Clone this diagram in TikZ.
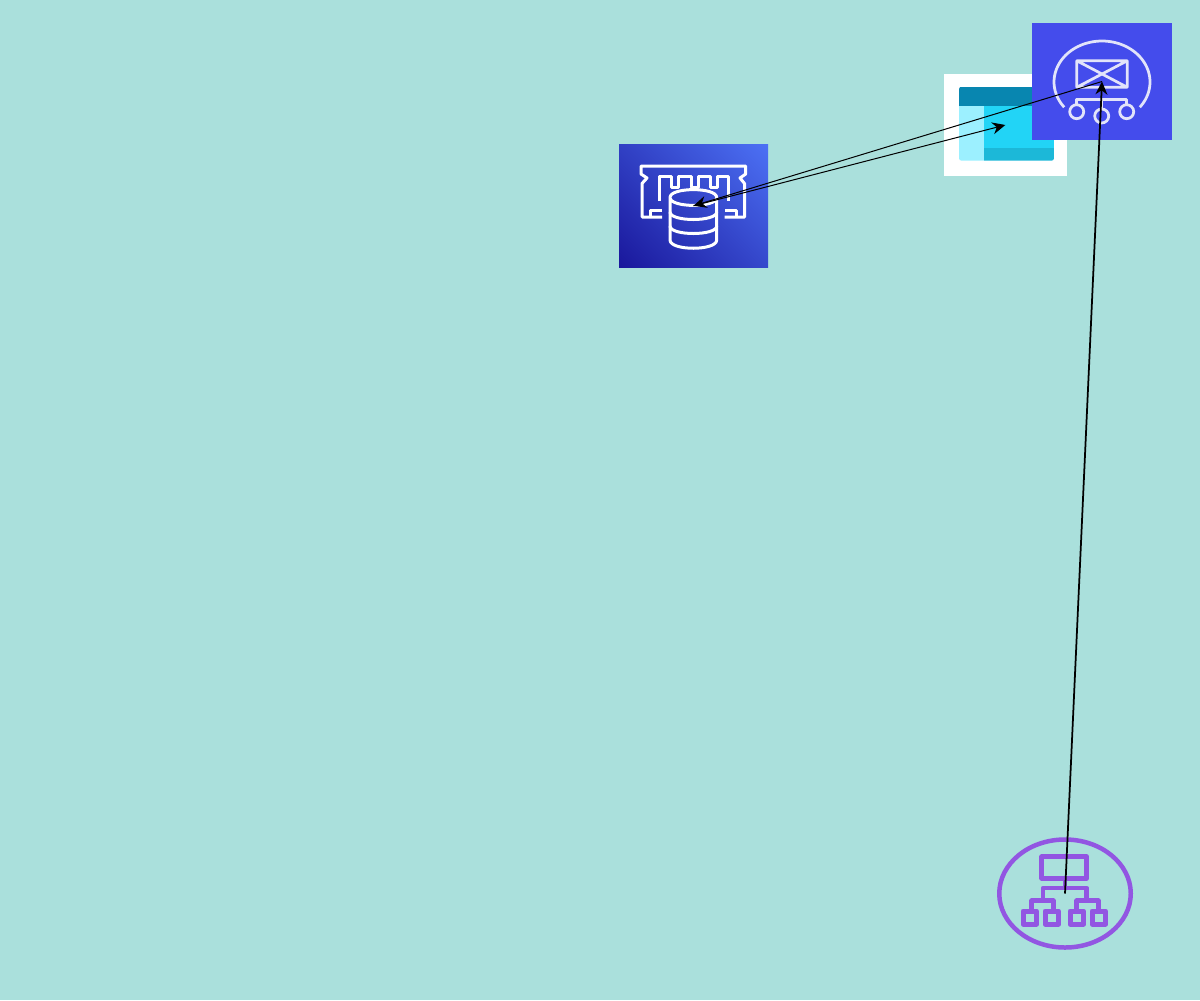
\documentclass[tikz,border=0pt]{standalone}
\usepackage{tikz}
\usetikzlibrary{positioning,arrows.meta,shapes.geometric}
\definecolor{bgteal}{RGB}{170,224,220}
\definecolor{mailblue}{RGB}{68,76,236}
\definecolor{mailline}{RGB}{226,228,250}
\definecolor{lbpurple}{RGB}{146,86,226}
\definecolor{tabledark}{RGB}{8,134,176}
\definecolor{tablemain}{RGB}{34,212,246}
\definecolor{tablelight}{RGB}{156,240,255}
\definecolor{tablelow}{RGB}{28,184,216}
\definecolor{dbdark}{RGB}{26,24,156}
\definecolor{dblight}{RGB}{76,112,244}
\pgfdeclareverticalshading{dbgrad}{100bp}{color(0bp)=(dbdark);color(15bp)=(dbdark);color(85bp)=(dblight);color(100bp)=(dblight)}
\tikzset{
  iconbox/.style={rectangle,inner sep=0pt,outer sep=0pt},
  dbstroke/.style={draw=white,line width=.6mm,line join=round},
  mailstroke/.style={draw=mailline,line width=.55mm,line join=round},
  lbstroke/.style={draw=lbpurple,line width=.9mm,line join=round},
  link/.style={->,>={Stealth[length=2.6mm,width=2.4mm]},black,line width=.2mm},
  thicklink/.style={link,line width=.35mm}
}
\begin{document}
\begin{tikzpicture}[x=.2mm,y=-.2mm]
\useasboundingbox (0,0) rectangle (1200,1000);
\fill[bgteal] (0,0) rectangle (1200,1000);
% table
\node[iconbox,fill=white,minimum width=24.5mm,minimum height=20.3mm] (table) at (1005.3,125) {};
\begin{scope}
\clip[rounded corners=.5mm] (959,86.7) rectangle (1054,160.7);
\fill[tablemain] (984,106) rectangle (1054,148);
\fill[tablelow] (984,148) rectangle (1054,160.7);
\fill[tablelight] (959,106) rectangle (984,160.7);
\fill[tabledark] (959,86.7) rectangle (1054,106);
\end{scope}
% memory db
\node[iconbox,minimum width=29.8mm,minimum height=24.7mm,shading=dbgrad,shading angle=-45] (db) at (693.5,205.8) {};
\draw[dbstroke] (662,217) -- (642,217) -- (642,183.5) -- (647,178) -- (641,174) -- (641,166) -- (745.7,166) -- (745.7,174) -- (740,178) -- (744.5,183.5) -- (744.5,217) -- (724.6,217);
\draw[dbstroke] (650,217) -- (650,210) -- (662,210) (736.6,217) -- (736.6,210) -- (724.6,210);
\draw[dbstroke] (659,201) -- (659,176) -- (671,176) -- (671,187) -- (678,187) -- (678,176) -- (691,176) -- (691,187) -- (698,187) -- (698,176) -- (710,176) -- (710,187) -- (717,187) -- (717,176) -- (728,176) -- (728,201);
\draw[dbstroke,fill=none] (670,197.5) .. controls (670,187) and (716.7,187) .. (716.7,197.5) .. controls (716.7,208) and (670,208) .. (670,197.5) -- (670,240) .. controls (670,251) and (716.7,251) .. (716.7,240) -- (716.7,197.5);
\draw[dbstroke] (670,212) .. controls (670,222) and (716.7,222) .. (716.7,212);
\draw[dbstroke] (670,226) .. controls (670,236) and (716.7,236) .. (716.7,226);
% mail
\node[iconbox,fill=mailblue,minimum width=28mm,minimum height=23.4mm] (mail) at (1102,81.5) {};
\draw[mailstroke] plot[smooth,domain=-38:218,samples=40] ({1102+48*cos(\x)},{82-41*sin(\x)});
\draw[mailstroke] (1076.7,60.7) rectangle (1127.3,87.3) (1076.7,60.7) -- (1127.3,87.3) (1127.3,60.7) -- (1076.7,87.3);
\draw[mailstroke] (1076.7,104.5) -- (1076.7,99.3) -- (1126.7,99.3) -- (1126.7,104.5) (1101.7,99.3) -- (1101.7,108.7);
\foreach \cx/\cy in {1076.7/111.7,1101.7/116,1126.7/111.7}
  \draw[mailstroke] (\cx,\cy) circle (7);
% load balancer
\node[ellipse,lbstroke,inner sep=0pt,outer sep=0pt,minimum width=26.3mm,minimum height=21.6mm] (lb) at (1065,893.5) {};
\draw[lbstroke] (1041.7,856.7) rectangle (1086.7,878.3);
\draw[lbstroke] (1065,878.3) -- (1065,888) (1031.7,910.7) -- (1031.7,900.7) -- (1053.3,900.7) -- (1053.3,910.7) (1043,900.7) -- (1043,888) -- (1086.7,888) -- (1086.7,900.7) (1076.7,910.7) -- (1076.7,900.7) -- (1098.3,900.7) -- (1098.3,910.7);
\foreach \bx in {1023,1045,1070,1092}
  \draw[lbstroke,line width=1mm] (\bx,911) rectangle +(13.5,13);
% connectors
\draw[thicklink] (lb.center) -- (mail.center);
\draw[link] (mail.center) -- (db.center);
\draw[link] (db.center) -- (table.center);
\end{tikzpicture}
\end{document}
